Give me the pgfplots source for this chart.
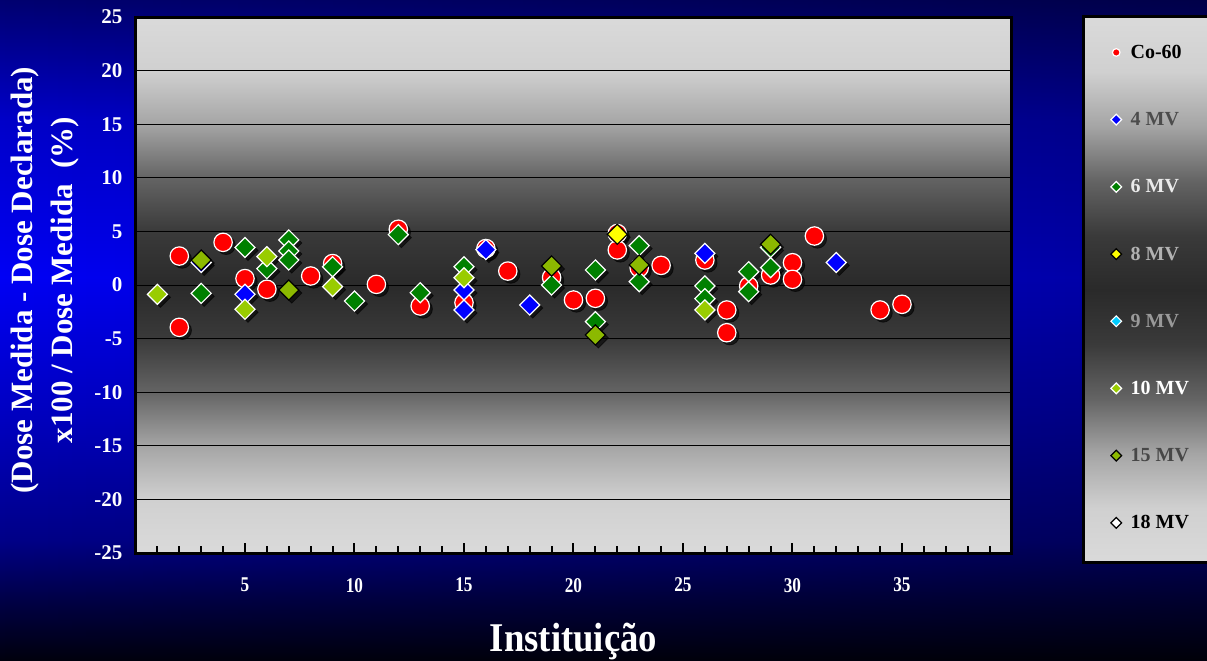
\documentclass[border=0pt]{standalone}
\usepackage{fontspec}
\setmainfont{Liberation Serif}
\newfontfamily\condfont[FakeStretch=0.82]{Liberation Serif}
\newfontfamily\labfont[FakeStretch=0.9]{Liberation Serif}
\usepackage{pgfplots}
\pgfplotsset{compat=1.18}
\usepackage{pgfplotstable}
\usetikzlibrary{fadings}

% series colours
\definecolor{cobalt}{RGB}{255,0,0}
\definecolor{mv4}{RGB}{0,0,255}
\definecolor{mv6}{RGB}{0,128,0}
\definecolor{mv8}{RGB}{255,255,0}
\definecolor{mv9}{RGB}{0,204,255}
\definecolor{mv10}{RGB}{153,204,0}
\definecolor{mv15}{RGB}{140,185,0}
\definecolor{mv18}{RGB}{255,255,255}

% gray panel shading
\definecolor{g0}{RGB}{218,218,218}
\definecolor{g1}{RGB}{208,208,208}
\definecolor{g2}{RGB}{165,165,165}
\definecolor{g3}{RGB}{100,100,100}
\definecolor{g4}{RGB}{58,58,58}
\definecolor{g5}{RGB}{42,42,42}
\pgfdeclareverticalshading{plotbg}{100bp}{color(0bp)=(g0); color(25bp)=(g0);
  color(30bp)=(g1); color(35bp)=(g2); color(40bp)=(g3); color(45bp)=(g4);
  color(50bp)=(g5); color(55bp)=(g4); color(60bp)=(g3); color(65bp)=(g2);
  color(70bp)=(g1); color(75bp)=(g0); color(100bp)=(g0)}

% blue page shading
\definecolor{b0}{RGB}{0,0,14}
\definecolor{b1}{RGB}{0,0,70}
\definecolor{b2}{RGB}{0,0,135}
\definecolor{b3}{RGB}{0,0,190}
\definecolor{b4}{RGB}{0,0,245}
\definecolor{b5}{RGB}{0,0,200}
\definecolor{b6}{RGB}{0,0,112}
\pgfdeclareverticalshading{bgblue}{100bp}{color(0bp)=(b0); color(25bp)=(b0);
  color(29.5bp)=(b1); color(34bp)=(b2); color(43bp)=(b3); color(54bp)=(b4);
  color(66bp)=(b5); color(75bp)=(b6); color(100bp)=(b6)}

\pgfplotstableread{
x y
2 2.7
2 -3.95
4 3.98
5 0.6
6 -0.4
8 0.84
9 2.0
11 0.06
12 5.2
13 -1.96
15 -1.65
16 3.4
17 1.3
19 0.7
20 -1.4
21 -1.24
22 3.27
22 4.8
23 1.6
24 1.83
26 2.33
27 -2.33
27 -4.45
28 -0.09
29 0.93
30 2.08
30 0.53
31 4.57
34 -2.33
35 -1.8
}\tcobalt

\pgfplotstableread{
x y
3 2.1
5 -0.87
15 -0.47
15 -2.33
16 3.3
18 -1.87
26 2.95
32 2.1
}\tfour

\pgfplotstableread{
x y
3 -0.78
5 3.5
6 1.52
7 4.2
7 3.17
7 2.33
9 1.7
10 -1.5
12 4.7
13 -0.72
15 1.7
19 0.0
21 1.4
21 -3.42
23 3.67
23 0.31
26 -0.09
26 -1.28
28 1.24
28 -0.62
29 3.5
29 1.62
}\tsix

\pgfplotstableread{
x y
22 4.73
}\teight

\pgfplotstableread{
x y
1 -0.87
5 -2.27
6 2.64
9 -0.15
15 0.68
26 -2.33
}\tten

\pgfplotstableread{
x y
3 2.33
7 -0.47
19 1.77
21 -4.66
23 1.87
29 3.8
}\tfifteen

\begin{document}
\begin{tikzpicture}
\useasboundingbox (0,0) rectangle (603.5pt,330pt);
\shade[shading=bgblue] (0,0) rectangle (603.5pt,330pt);
\fill[black, path fading=west, opacity=0.35] (0,0) rectangle (603.5pt,330pt);
\shadedraw[shading=plotbg, draw=black, line width=1.5pt] (541.75pt,48.75pt) rectangle (615pt,321.5pt);
\begin{axis}[
  at={(67.75pt,53.5pt)}, anchor=south west,
  width=438pt, height=268pt, scale only axis,
  xmin=0, xmax=40, ymin=-25, ymax=25,
  xtick={5,10,...,35}, minor xtick={1,...,39},
  ytick={-25,-20,...,25},
  ymajorgrids, major grid style={black, line width=0.5pt},
  axis line style={black, line width=1.5pt},
  tick align=inside, xtick pos=lower, ytick pos=left,
  ytick style={draw=none},
  xtick style={black, line width=1pt},
  major tick length=5pt, minor tick length=3.5pt,
  /pgf/number format/assume math mode=true,
  ticklabel style={text=white},
  yticklabel style={font=\fontsize{10.5}{11}\selectfont\bfseries, xshift=-3pt},
  xticklabel style={font=\fontsize{10.5}{11}\selectfont\condfont\bfseries, yshift=-9pt},
  axis background/.style={shade, shading=plotbg},
  xlabel={Instituição},
  xlabel style={at={(axis description cs:0.5,-0.1847)}, anchor=base,
    font=\fontsize{20.4}{22}\selectfont\labfont\bfseries, text=white},
  ylabel={(Dose Medida - Dose Declarada)\\x100 / Dose Medida~~(\%)},
  ylabel style={at={(axis description cs:-0.1033,0.509)}, anchor=center, align=center,
    font=\fontsize{15.5}{20}\selectfont\bfseries, text=white},
  only marks,
  circ/.style={mark=*, mark size=4.6pt, mark options={draw=white, line width=0.6pt, fill=#1}},
  diam/.style={mark=square*, mark size=3.55pt, mark options={rotate=45, draw=white, line width=0.6pt, fill=#1}},
  diamk/.style={mark=square*, mark size=3.55pt, mark options={rotate=45, draw=black, line width=0.6pt, fill=#1}},
  shad/.style={forget plot, mark=#1, mark options={draw=black, fill=black, fill opacity=0.6, draw opacity=0.6, rotate=45}},
  legend image code/.code={\draw[#1, mark size=1.9pt] plot coordinates {(0pt,0pt)};},
  legend cell align=left,
  legend style={at={(axis description cs:1.113,0.957)}, anchor=north west,
    draw=none, fill=none, inner sep=0pt, row sep=21.6pt, column sep=2.5pt,
    font=\fontsize{10}{11}\selectfont\bfseries,
    nodes={text height=7pt, text depth=1pt, inner sep=2pt}},
]
% shadows
\addplot[shad=*, mark size=4.6pt] table[x expr=\thisrow{x}+0.137, y expr=\thisrow{y}-0.28] {\tcobalt};
\addplot[shad=square*, mark size=3.55pt] table[x expr=\thisrow{x}+0.137, y expr=\thisrow{y}-0.28] {\tfour};
\addplot[shad=square*, mark size=3.55pt] table[x expr=\thisrow{x}+0.137, y expr=\thisrow{y}-0.28] {\tsix};
\addplot[shad=square*, mark size=3.55pt] table[x expr=\thisrow{x}+0.137, y expr=\thisrow{y}-0.28] {\teight};
\addplot[shad=square*, mark size=3.55pt] table[x expr=\thisrow{x}+0.137, y expr=\thisrow{y}-0.28] {\tten};
\addplot[shad=square*, mark size=3.55pt] table[x expr=\thisrow{x}+0.137, y expr=\thisrow{y}-0.28] {\tfifteen};
% series
\addplot[circ=cobalt] table {\tcobalt};
\addlegendentry{\textcolor{black}{Co-60}}
\addplot[diam=mv4] table {\tfour};
\addlegendentry{\textcolor{black!70}{4 MV}}
\addplot[diam=mv6] table {\tsix};
\addlegendentry{\textcolor{white!92!black}{6 MV}}
\addplot[diamk=mv8] table {\teight};
\addlegendentry{\textcolor{black!30}{8 MV}}
\addlegendimage{only marks, diam=mv9}
\addlegendentry{\textcolor{black!40}{9 MV}}
\addplot[diam=mv10] table {\tten};
\addlegendentry{\textcolor{white}{10 MV}}
\addplot[diamk=mv15] table {\tfifteen};
\addlegendentry{\textcolor{black!72}{15 MV}}
\addlegendimage{only marks, diamk=mv18}
\addlegendentry{\textcolor{black}{18 MV}}
\end{axis}
\end{tikzpicture}
\end{document}
